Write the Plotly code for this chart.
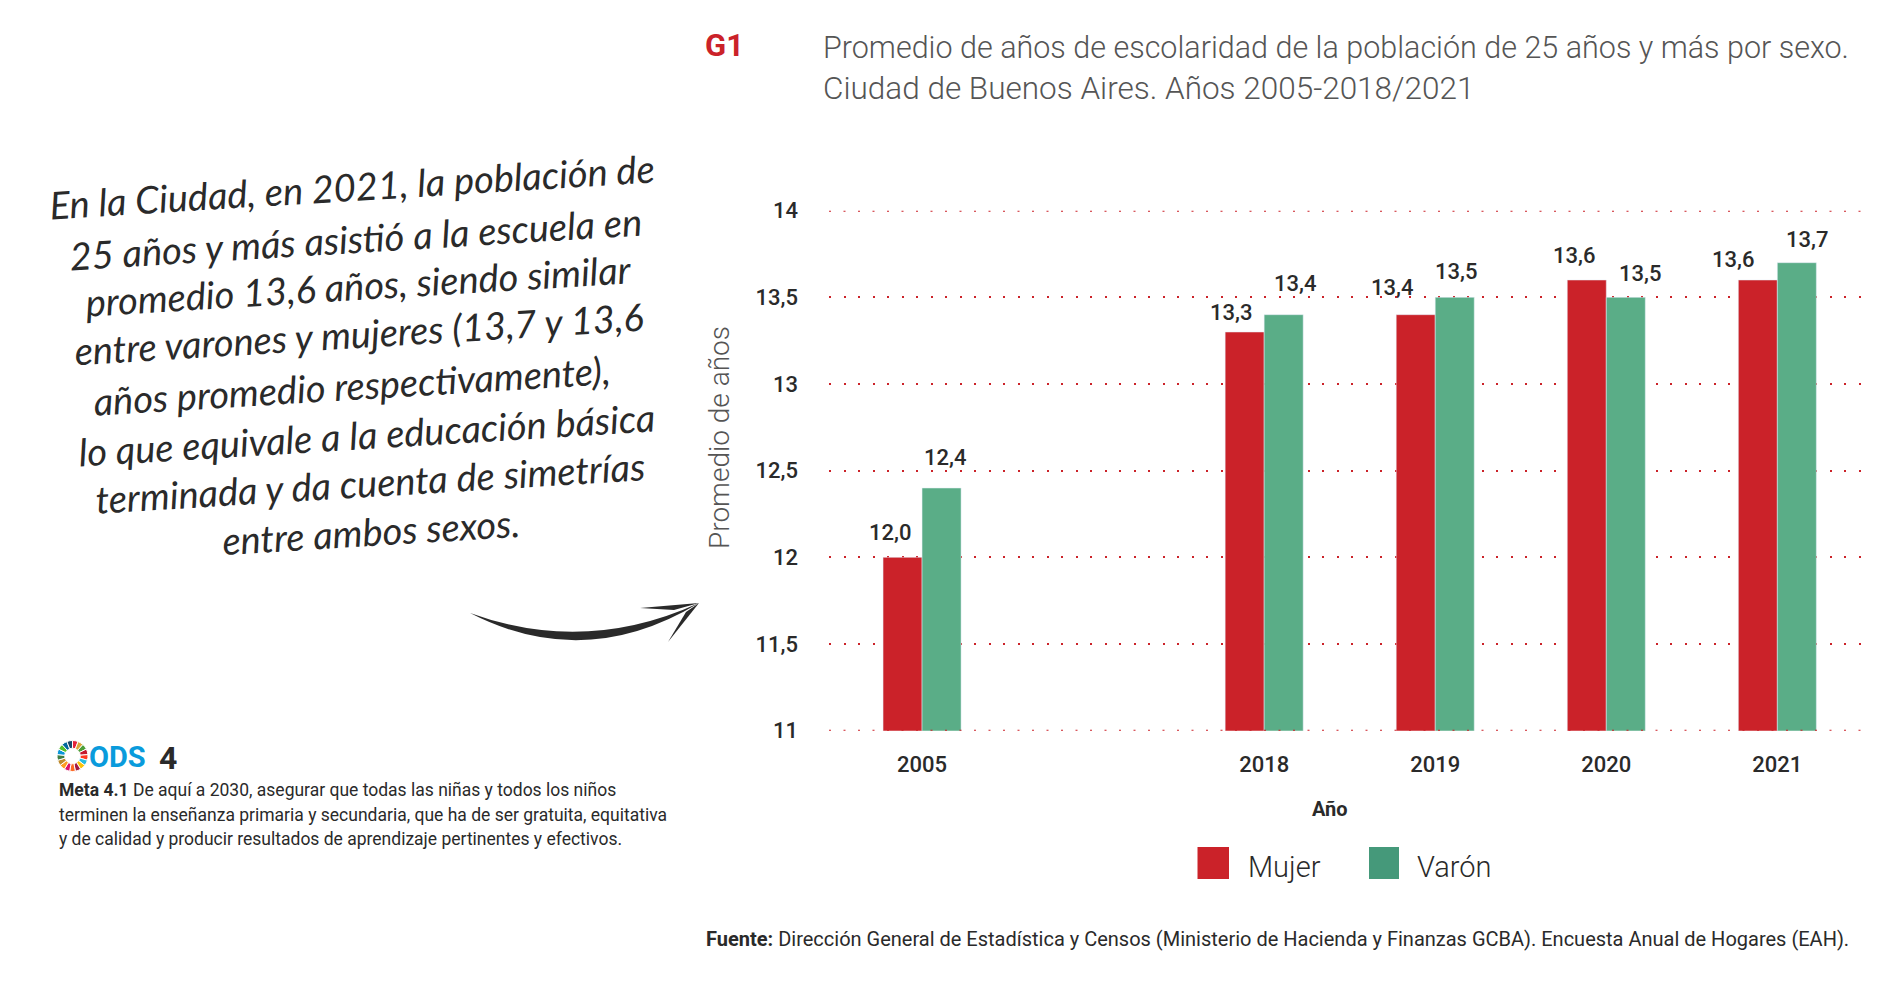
#!/usr/bin/env python3
"""G1: promedio de años de escolaridad por sexo, con texto lateral y ODS."""
import plotly.graph_objects as go

# datos
YEARS = ["2005", " ", "2018", "2019", "2020", "2021"]
MUJER = [12.0, None, 13.3, 13.4, 13.6, 13.6]
VARON = [12.4, None, 13.4, 13.5, 13.5, 13.7]
Y_TICKS = [11, 11.5, 12, 12.5, 13, 13.5, 14]
Y_LABELS = ["11", "11,5", "12", "12,5", "13", "13,5", "14"]

TITLE_LINES = ["Promedio de años de escolaridad de la población de 25 años y más por sexo.",
               "Ciudad de Buenos Aires. Años 2005-2018/2021"]
HAND_LINES = ["En la Ciudad, en 2021, la población de",
              "25 años y más asistió a la escuela en",
              "promedio 13,6 años, siendo similar",
              "entre varones y mujeres (13,7 y 13,6",
              "años promedio respectivamente),",
              "lo que equivale a la educación básica",
              "terminada y da cuenta de simetrías",
              "entre ambos sexos."]
META_LINES = ["<b>Meta 4.1</b> De aquí a 2030, asegurar que todas las niñas y todos los niños",
              "terminen la enseñanza primaria y secundaria, que ha de ser gratuita, equitativa",
              "y de calidad y producir resultados de aprendizaje pertinentes y efectivos."]
FUENTE = "<b>Fuente:</b> Dirección General de Estadística y Censos (Ministerio de Hacienda y Finanzas GCBA). Encuesta Anual de Hogares (EAH)."

# colores
C_RED, C_GREEN, C_GREEN_LEG = "#cb2229", "#5aad87", "#45997a"
C_TEXT, C_GREY, C_BLUE = "#2a2a2a", "#555555", "#0a9bdc"
SDG_COLORS = ["#E5243B", "#DDA63A", "#4C9F38", "#C5192D", "#FF3A21", "#26BDE2", "#FCC30B",
              "#A21942", "#FD6925", "#DD1367", "#FD9D24", "#BF8B2E", "#3F7E44", "#0A97D9",
              "#56C02B", "#00689D", "#19486A"]

BODY = "Roboto"
DOTS = "2px,12.5px"

# desplazamiento de cada rótulo (px) respecto de la categoría y del tope de la barra
SHIFT_M = [(-32, 25), None, (-33, 20), (-43, 27), (-32, 25), (-44, 21)]
SHIFT_V = [(23, 31), None, (31, 31), (21, 26), (34, 24), (30, 23)]

# el body de la página trae 8 px de margen: el div queda en (8, 8)
W, H = 1884, 975


def fx(px):
    return (px - 8) / W


def fy(py):
    return 1 - (py - 8) / H


def note(px, py, text, size, color=C_TEXT, family=BODY, anchor="left", angle=0, weight=None):
    # la anotación lleva unos 3 px de relleno a la izquierda
    x = px - 3 if anchor == "left" else px
    fig.add_annotation(x=fx(x), y=fy(py), xref="paper", yref="paper", text=text, showarrow=False,
                       xanchor=anchor, yanchor="middle", textangle=angle,
                       font=dict(size=size, color=color, family=family, weight=weight))


def brush(points):
    """Trazo relleno en px de pantalla: 'M' / 'Q' / 'L' con pares (x, y)."""
    out = []
    for cmd, *xy in points:
        pairs = [f"{fx(xy[i])},{fy(xy[i + 1])}" for i in range(0, len(xy), 2)]
        out.append(cmd + " ".join(pairs))
    fig.add_shape(type="path", xref="paper", yref="paper", path=" ".join(out) + " Z",
                  fillcolor=C_TEXT, line=dict(width=0))


fig = go.Figure()
fig.add_trace(go.Bar(x=YEARS, y=MUJER, name="Mujer", marker_color=C_RED, showlegend=False))
fig.add_trace(go.Bar(x=YEARS, y=VARON, name="Varón", marker_color=C_GREEN, showlegend=False))

# anillo ODS
fig.add_trace(go.Pie(values=[1] * len(SDG_COLORS), marker=dict(colors=SDG_COLORS, line=dict(color="white", width=1)),
                     hole=0.5, sort=False, direction="clockwise", textinfo="none", hoverinfo="skip",
                     showlegend=False, domain=dict(x=[fx(57), fx(88)], y=[fy(771.5), fy(740.5)])))

fig.update_layout(
    width=W, height=H, margin=dict(l=0, r=0, t=0, b=0), autosize=False,
    paper_bgcolor="white", plot_bgcolor="white", barmode="group", bargap=0.544, bargroupgap=0,
    xaxis=dict(domain=[fx(829), fx(1868)], type="category", categoryorder="array", categoryarray=YEARS,
               range=[-0.544, 5.53], tickvals=[y for y in YEARS if y.strip()], ticklabelstandoff=18,
               showgrid=False, showline=False, zeroline=False, ticks="", automargin=False,
               tickfont=dict(size=22, color=C_TEXT, family=BODY, weight=500)),
    yaxis=dict(domain=[fy(730.7), fy(210.7)], range=[11, 14], tickvals=Y_TICKS, ticktext=Y_LABELS,
               ticklabelstandoff=30, showgrid=True, gridcolor=C_RED, griddash=DOTS, gridwidth=2,
               showline=False, zeroline=False, ticks="", automargin=False,
               tickfont=dict(size=22, color=C_TEXT, family=BODY, weight=500)),
)

# las líneas de los extremos no las dibuja la grilla
for y_edge in (Y_TICKS[0], Y_TICKS[-1]):
    fig.add_hline(y=y_edge, line=dict(color=C_RED, width=2, dash=DOTS))

# rótulos de valor (x por posición de categoría)
for vals, shifts in ((MUJER, SHIFT_M), (VARON, SHIFT_V)):
    for i, (v, s) in enumerate(zip(vals, shifts)):
        if v is None:
            continue
        fig.add_annotation(x=i, y=v, xref="x", yref="y", text=f"{v:.1f}".replace(".", ","), showarrow=False,
                           xshift=s[0], yshift=s[1], yanchor="middle",
                           font=dict(size=22, color=C_TEXT, family=BODY, weight=500))

# títulos
note(706, 46, "<b>G1</b>", 31, color=C_RED)
note(824, 47, TITLE_LINES[0], 30.5, color=C_GREY, weight=300)
note(824, 88, TITLE_LINES[1], 31.5, color=C_GREY, weight=300)
note(719, 438, "Promedio de años", 28, color=C_GREY, anchor="center", angle=-90, weight=300)
note(1330, 809, "<b>Año</b>", 20, anchor="center")

# leyenda
fig.add_shape(type="rect", xref="paper", yref="paper", x0=fx(1197.5), x1=fx(1229), y0=fy(847), y1=fy(879),
              fillcolor=C_RED, line=dict(width=0))
fig.add_shape(type="rect", xref="paper", yref="paper", x0=fx(1369), x1=fx(1399), y0=fy(847), y1=fy(879),
              fillcolor=C_GREEN_LEG, line=dict(width=0))
note(1249, 867, "Mujer", 29, weight=300)
note(1418, 867, "Varón", 29, weight=300)

note(707, 939, FUENTE, 20)

# texto manuscrito
HAND_POS = [(352, 186), (355, 238), (358, 285), (359, 333), (352, 385), (367, 434), (370, 482), (371, 531)]
for line, (px, py) in zip(HAND_LINES, HAND_POS):
    note(px, py, f"<i>{line}</i>", 38, family="Lato", anchor="center", angle=-3.5)

# flecha a pincel
brush([("M", 470, 613), ("Q", 585, 672, 699, 603), ("Q", 585, 655, 470, 613)])
brush([("M", 699, 603), ("L", 640, 608), ("L", 674, 610)])
brush([("M", 699, 603), ("L", 668, 642), ("L", 686, 612)])

# ODS y meta
note(90, 757, "<b>ODS</b>", 29, color=C_BLUE)
note(160, 758, "<b>4</b>", 32)
for line, py in zip(META_LINES, (790, 815, 839)):
    note(60, py, line, 17.5)

fig.write_html("out.html")
